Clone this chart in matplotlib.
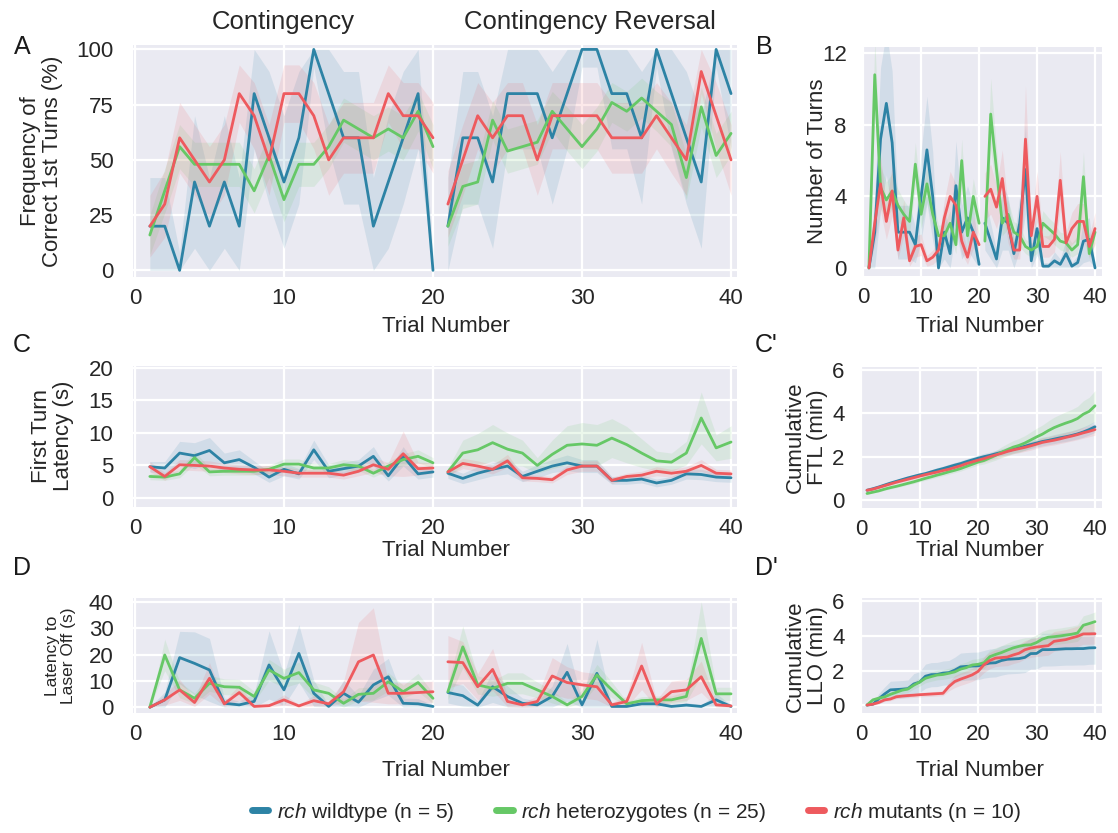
import numpy as np
import matplotlib
matplotlib.use("Agg")
import matplotlib.pyplot as plt
import seaborn as sns
from matplotlib.lines import Line2D

sns.set_theme(style="darkgrid")
plt.rcParams["font.family"] = ["Liberation Sans", "DejaVu Sans"]
plt.rcParams["mathtext.fontset"] = "custom"
plt.rcParams["mathtext.rm"] = "Liberation Sans"
plt.rcParams["mathtext.it"] = "Liberation Sans:italic"

trials = np.arange(1, 41)
groups = ["wt", "het", "mut"]
colors = {"wt": "#2d83a5", "het": "#66c866", "mut": "#ee5a5e"}
labels = [r"$\it{rch}$ wildtype (n = 5)",
          r"$\it{rch}$ heterozygotes (n = 25)",
          r"$\it{rch}$ mutants (n = 10)"]

# --- A: frequency of correct 1st turns (%)
a_wt = [20, 20, 0, 40, 20, 40, 20, 80, 60, 40, 60, 100, 80, 60, 60, 20, 40, 60, 80, 0,
        20, 60, 60, 40, 80, 80, 80, 60, 80, 100, 100, 80, 80, 60, 100, 80, 60, 40, 100, 80]
a_het = [16, 36, 56, 48, 48, 48, 48, 36, 52, 32, 48, 48, 56, 68, 64, 60, 64, 60, 72, 56,
         20, 38, 40, 68, 54, 56, 58, 72, 64, 56, 64, 76, 72, 78, 72, 66, 42, 74, 52, 62]
a_mut = [20, 30, 60, 50, 40, 50, 80, 70, 50, 80, 80, 70, 50, 60, 60, 60, 80, 70, 70, 60,
         30, 50, 70, 60, 70, 70, 50, 70, 70, 70, 70, 60, 60, 60, 70, 60, 50, 90, 70, 50]
a_wt_ci = [22, 22, 8, 30, 22, 30, 22, 25, 30, 30, 30, 8, 25, 30, 30, 22, 30, 30, 25, 8,
           22, 30, 30, 30, 25, 25, 25, 30, 25, 8, 8, 25, 25, 30, 8, 25, 30, 30, 8, 25]
a_het_ci = [9, 10, 10, 10, 10, 10, 10, 10, 10, 10, 10, 10, 10, 10, 10, 10, 10, 10, 9, 10,
            9, 10, 10, 9, 10, 10, 10, 9, 10, 10, 10, 9, 9, 9, 9, 10, 10, 9, 10, 10]
a_mut_ci = [14, 15, 16, 16, 16, 16, 13, 15, 16, 13, 13, 15, 16, 16, 16, 16, 13, 15, 15, 16,
            15, 16, 15, 16, 15, 15, 16, 15, 15, 15, 15, 16, 16, 16, 15, 16, 16, 10, 15, 16]

# --- B: number of turns
b_wt = [0, 2.0, 7.2, 9.2, 7.0, 2.0, 2.0, 2.0, 1.3, 4.0, 6.6, 4.0, 0, 2.0, 0.8, 4.6, 2.0, 2.8, 2.0, 0.2,
        2.5, 1.5, 0.5, 2.8, 2.5, 0.8, 2.5, 5.5, 0.4, 2.2, 0.1, 0.1, 0.4, 0.2, 0.8, 0.1, 0.3, 1.5, 1.6, 0]
b_het = [0, 10.8, 4.5, 3.8, 4.3, 3.5, 3.0, 2.6, 5.8, 3.0, 4.7, 3.0, 1.8, 1.8, 2.5, 1.3, 6.0, 1.8, 4.0, 2.5,
         1.5, 8.6, 5.5, 2.5, 3.0, 2.0, 1.8, 1.2, 1.0, 1.2, 2.5, 2.2, 1.9, 1.5, 1.4, 1.0, 1.3, 5.1, 0.8, 2.0]
b_mut = [0, 2.5, 4.7, 2.6, 4.3, 1.0, 2.8, 0.4, 1.2, 1.3, 0.4, 0.6, 1.0, 2.8, 4.0, 3.5, 1.5, 0.6, 2.0, 1.3,
         4.0, 4.4, 3.4, 5.0, 2.4, 1.0, 1.0, 7.2, 1.8, 4.0, 1.2, 1.2, 1.6, 4.9, 1.4, 2.2, 2.6, 2.6, 1.2, 2.2]
b_wt_ci = [0, 2, 4, 4, 4, 1.5, 1.5, 1.5, 1, 2.5, 3, 2.5, 0.2, 1.5, 0.8, 2.5, 1.5, 1.8, 1.5, 0.3,
           1.5, 1, 0.5, 1.8, 1.5, 0.8, 1.5, 2.5, 0.5, 1.5, 0.2, 0.2, 0.5, 0.3, 0.8, 0.2, 0.4, 1.2, 1.2, 0.2]
b_het_ci = [0.2, 2.0, 1.2, 1.0, 1.0, 0.9, 0.8, 0.7, 1.2, 0.8, 1.0, 0.8, 0.6, 0.6, 0.7, 0.5, 1.2, 0.6, 1.0, 0.7,
            0.5, 2.0, 1.2, 0.7, 0.8, 0.6, 0.6, 0.4, 0.4, 0.4, 0.7, 0.6, 0.6, 0.5, 0.5, 0.4, 0.5, 1.4, 0.3, 0.6]
b_mut_ci = [0.2, 1.2, 1.5, 1.0, 1.4, 0.5, 1.0, 0.3, 0.6, 0.6, 0.3, 0.4, 0.5, 1.0, 1.4, 1.2, 0.7, 0.4, 0.9, 0.6,
            1.3, 1.4, 1.2, 1.6, 1.0, 0.5, 0.5, 3.0, 0.8, 1.4, 0.6, 0.6, 0.7, 1.6, 0.6, 0.9, 1.0, 1.0, 0.6, 0.9]

# --- C: first turn latency (s)
c_wt = [4.8, 4.6, 6.9, 6.5, 7.3, 5.4, 5.9, 4.7, 3.2, 4.4, 3.7, 7.4, 4.1, 4.5, 4.9, 6.4, 3.4, 6.4, 3.7, 4.0,
        3.8, 3.0, 3.8, 4.4, 4.9, 3.3, 4.1, 4.9, 5.4, 4.9, 4.9, 2.7, 2.7, 2.9, 2.3, 2.7, 3.7, 3.6, 3.2, 3.1]
c_het = [3.3, 3.2, 3.7, 6.2, 4.0, 4.1, 4.1, 4.1, 4.4, 5.2, 5.2, 4.6, 4.6, 5.1, 4.9, 3.8, 4.9, 5.9, 6.4, 5.4,
         4.0, 6.9, 7.4, 8.5, 7.5, 6.9, 5.0, 6.7, 8.1, 8.3, 8.1, 9.2, 8.2, 6.9, 5.7, 5.5, 6.9, 12.3, 7.7, 8.6]
c_mut = [4.8, 3.3, 5.1, 5.0, 4.9, 4.6, 4.4, 4.3, 4.3, 4.1, 3.8, 3.8, 3.8, 3.5, 4.1, 5.1, 4.4, 6.8, 4.5, 4.6,
         4.0, 5.3, 4.9, 4.4, 5.7, 3.1, 3.0, 2.8, 4.3, 4.9, 4.9, 2.7, 3.3, 3.5, 4.1, 3.8, 4.1, 5.0, 3.8, 3.7]
c_wt_ci = [0.8, 1.0, 1.8, 2.0, 2.0, 1.5, 1.5, 1.0, 0.8, 1.0, 0.8, 1.5, 1.0, 1.0, 1.0, 1.5, 0.8, 1.5, 0.8, 0.8,
           0.8, 0.8, 1.0, 1.0, 1.2, 0.8, 1.0, 1.0, 1.2, 1.0, 1.0, 0.6, 0.6, 0.6, 0.6, 0.6, 0.8, 0.8, 0.7, 0.7]
c_het_ci = [0.5, 0.5, 0.6, 1.0, 0.6, 0.6, 0.6, 0.6, 0.6, 0.8, 0.8, 0.7, 0.7, 0.8, 0.7, 0.6, 0.7, 0.9, 1.0, 0.8,
            0.6, 2.0, 2.5, 2.8, 2.5, 2.0, 1.2, 2.2, 3.0, 3.3, 3.2, 3.0, 2.8, 2.2, 1.5, 1.4, 1.8, 4.0, 2.0, 2.5]
c_mut_ci = [0.8, 0.6, 0.8, 0.8, 0.8, 0.7, 0.7, 0.7, 0.7, 0.7, 0.6, 0.6, 0.6, 0.6, 0.7, 1.2, 1.0, 3.5, 1.0, 0.8,
            0.6, 0.8, 0.8, 0.7, 1.0, 0.5, 0.5, 0.5, 0.7, 0.8, 0.8, 0.5, 0.5, 0.6, 0.7, 0.6, 0.7, 0.9, 0.6, 0.6]

# --- C': cumulative first turn latency (min)
cc_wt = [0.45, 0.52, 0.60, 0.69, 0.78, 0.86, 0.94, 1.02, 1.09, 1.16, 1.22, 1.30, 1.38, 1.45, 1.53, 1.61, 1.68, 1.77, 1.85, 1.93,
         2.00, 2.06, 2.13, 2.20, 2.27, 2.34, 2.41, 2.48, 2.56, 2.63, 2.70, 2.75, 2.81, 2.87, 2.92, 2.98, 3.05, 3.14, 3.25, 3.38]
cc_het = [0.30, 0.36, 0.42, 0.50, 0.57, 0.63, 0.70, 0.77, 0.84, 0.92, 1.00, 1.07, 1.15, 1.22, 1.30, 1.37, 1.45, 1.55, 1.65, 1.75,
          1.82, 1.94, 2.06, 2.20, 2.32, 2.44, 2.52, 2.63, 2.77, 2.91, 3.04, 3.20, 3.34, 3.45, 3.55, 3.64, 3.76, 3.96, 4.09, 4.35]
cc_mut = [0.45, 0.50, 0.58, 0.66, 0.74, 0.82, 0.89, 0.96, 1.03, 1.10, 1.17, 1.23, 1.29, 1.36, 1.42, 1.50, 1.58, 1.68, 1.76, 1.84,
          1.91, 2.00, 2.08, 2.15, 2.24, 2.31, 2.37, 2.43, 2.50, 2.58, 2.66, 2.71, 2.76, 2.82, 2.89, 2.95, 3.02, 3.10, 3.17, 3.25]
cc_wt_ci = [0.05, 0.05, 0.06, 0.06, 0.07, 0.07, 0.08, 0.08, 0.09, 0.09, 0.10, 0.10, 0.11, 0.11, 0.12, 0.12, 0.13, 0.13, 0.14, 0.14,
            0.15, 0.15, 0.16, 0.16, 0.17, 0.17, 0.18, 0.18, 0.19, 0.19, 0.20, 0.20, 0.21, 0.21, 0.22, 0.22, 0.23, 0.24, 0.25, 0.26]
cc_het_ci = [0.04, 0.04, 0.05, 0.05, 0.06, 0.06, 0.07, 0.07, 0.08, 0.08, 0.09, 0.09, 0.10, 0.10, 0.11, 0.11, 0.12, 0.12, 0.13, 0.14,
             0.16, 0.19, 0.22, 0.25, 0.28, 0.30, 0.32, 0.34, 0.37, 0.40, 0.42, 0.45, 0.48, 0.50, 0.52, 0.54, 0.56, 0.62, 0.65, 0.70]
cc_mut_ci = [0.05, 0.05, 0.06, 0.06, 0.07, 0.07, 0.08, 0.08, 0.09, 0.09, 0.10, 0.10, 0.11, 0.11, 0.12, 0.12, 0.13, 0.14, 0.15, 0.15,
             0.16, 0.16, 0.17, 0.17, 0.18, 0.18, 0.19, 0.19, 0.20, 0.20, 0.21, 0.21, 0.22, 0.22, 0.23, 0.23, 0.24, 0.25, 0.25, 0.26]

# --- D: latency to laser off (s)
d_wt = [0, 2.8, 18.9, 16.7, 14.2, 1.5, 0.9, 2.2, 16.1, 6.6, 20.5, 5.3, 0.3, 5.3, 1.9, 8.5, 11.6, 1.5, 1.3, 0.3,
        5.6, 4.4, 0.8, 7.8, 4.1, 1.5, 0.9, 4.1, 13.3, 0.9, 12.9, 0.3, 0.3, 1.3, 1.3, 0.3, 0.8, 0.3, 2.8, 0.3]
d_het = [0, 19.9, 6.6, 3.4, 9.1, 7.8, 7.6, 4.1, 14.2, 11.0, 13.2, 6.6, 5.3, 1.5, 4.9, 5.3, 9.7, 5.9, 9.4, 3.4,
         5.9, 23.0, 8.5, 7.2, 9.1, 9.1, 6.6, 4.1, 0.9, 4.1, 12.3, 6.6, 1.3, 2.5, 2.8, 2.8, 4.1, 26.2, 5.1, 5.1]
d_mut = [0, 2.8, 6.6, 1.8, 11.0, 1.3, 5.6, 0.3, 0.6, 2.8, 0.5, 2.5, 1.3, 5.9, 17.3, 19.9, 5.3, 5.3, 5.6, 5.9,
         17.3, 17.0, 7.8, 14.4, 2.2, 0.9, 2.2, 11.9, 9.4, 8.5, 7.8, 0.9, 2.2, 15.7, 1.3, 5.9, 6.6, 11.6, 0.9, 0.5]
d_wt_ci = [0.3, 3, 10, 12, 12, 2, 1.5, 3, 13, 6, 11, 5, 0.5, 5, 2.5, 6, 7, 2, 2, 0.5,
           4, 4, 1.5, 6, 4, 2, 1.5, 4, 11, 1.5, 13, 0.5, 0.5, 2, 2, 0.5, 1, 0.5, 2.5, 0.5]
d_het_ci = [0.3, 6, 3, 2, 3, 3, 3, 2, 4, 3.5, 4, 3, 2.5, 1.5, 2.5, 2.5, 3.5, 2.5, 3.5, 2,
            3, 8, 3.5, 3, 4, 4, 3, 2.5, 1, 2.5, 4, 3, 1, 1.5, 1.5, 1.5, 2, 14, 2.5, 2.5]
d_mut_ci = [0.3, 2, 4, 1.5, 6, 1, 3, 0.5, 0.6, 2, 0.6, 2, 1, 4, 15, 18, 4, 4, 4, 4,
            10, 8, 5, 8, 2, 1, 2, 7, 6, 5, 5, 1, 2, 9, 1.5, 4, 4, 6, 1, 0.8]

# --- D': cumulative latency to laser off (min)
dd_wt = [0.00, 0.05, 0.36, 0.64, 0.88, 0.90, 0.92, 0.95, 1.22, 1.33, 1.67, 1.76, 1.77, 1.85, 1.88, 2.02, 2.21, 2.24, 2.26, 2.27,
         2.36, 2.43, 2.45, 2.58, 2.65, 2.67, 2.69, 2.76, 2.98, 2.99, 3.21, 3.21, 3.22, 3.24, 3.26, 3.26, 3.27, 3.27, 3.31, 3.32]
dd_het = [0.00, 0.30, 0.40, 0.47, 0.62, 0.74, 0.86, 0.93, 1.15, 1.33, 1.55, 1.65, 1.74, 1.77, 1.84, 1.92, 2.08, 2.17, 2.32, 2.36,
          2.45, 2.80, 2.93, 3.04, 3.18, 3.31, 3.40, 3.47, 3.49, 3.62, 3.82, 3.93, 3.96, 4.00, 4.05, 4.10, 4.17, 4.62, 4.72, 4.83]
dd_mut = [0.00, 0.05, 0.15, 0.30, 0.35, 0.48, 0.52, 0.55, 0.57, 0.60, 0.62, 0.64, 0.66, 0.68, 1.07, 1.36, 1.50, 1.62, 1.75, 1.95,
          2.33, 2.58, 2.72, 2.75, 2.78, 2.90, 3.00, 3.20, 3.30, 3.36, 3.40, 3.44, 3.69, 3.74, 3.79, 3.89, 3.98, 4.12, 4.12, 4.13]
dd_wt_ci = [0.00, 0.05, 0.30, 0.40, 0.50, 0.50, 0.50, 0.50, 0.60, 0.60, 0.70, 0.70, 0.70, 0.70, 0.70, 0.75, 0.80, 0.80, 0.80, 0.80,
            0.80, 0.82, 0.82, 0.85, 0.85, 0.85, 0.85, 0.88, 0.90, 0.90, 0.95, 0.95, 0.95, 0.95, 0.95, 0.95, 0.95, 0.95, 0.95, 0.95]
dd_het_ci = [0.00, 0.10, 0.12, 0.13, 0.15, 0.17, 0.19, 0.20, 0.22, 0.24, 0.26, 0.27, 0.28, 0.28, 0.29, 0.30, 0.31, 0.32, 0.33, 0.33,
             0.34, 0.38, 0.39, 0.40, 0.41, 0.42, 0.42, 0.43, 0.43, 0.44, 0.45, 0.46, 0.46, 0.46, 0.47, 0.47, 0.48, 0.55, 0.55, 0.56]
dd_mut_ci = [0.00, 0.03, 0.06, 0.10, 0.10, 0.12, 0.12, 0.13, 0.13, 0.13, 0.13, 0.14, 0.14, 0.14, 0.25, 0.35, 0.36, 0.37, 0.38, 0.40,
             0.45, 0.48, 0.49, 0.49, 0.50, 0.50, 0.51, 0.53, 0.54, 0.55, 0.55, 0.55, 0.57, 0.57, 0.58, 0.58, 0.59, 0.60, 0.60, 0.60]

W, H = 1118, 833
FS = 16
TXT = "#262626"
fig = plt.figure(figsize=(W / 100, H / 100), dpi=100)


def add_ax(l, t, r, b):
    return fig.add_axes([l / W, 1 - b / H, (r - l) / W, (b - t) / H])


def draw(ax, series, errs, split=True, lo_clip=None, hi_clip=None):
    parts = [slice(0, 20), slice(20, 40)] if split else [slice(0, 40)]
    for g, y, e in zip(groups, series, errs):
        y = np.asarray(y, float)
        e = np.asarray(e, float)
        lo, hi = y - e, y + e
        if lo_clip is not None:
            lo = np.clip(lo, lo_clip, None)
        if hi_clip is not None:
            hi = np.clip(hi, None, hi_clip)
        for sl in parts:
            ax.fill_between(trials[sl], lo[sl], hi[sl], color=colors[g], alpha=0.13, lw=0)
            ax.plot(trials[sl], y[sl], color=colors[g], lw=2)


def style(ax, ylim, yticks, xlim, ypad=11):
    ax.set_facecolor("#eaeaf2")
    ax.grid(True, color="white", lw=1.6)
    for s in ax.spines.values():
        s.set_visible(False)
    ax.set_ylim(*ylim)
    ax.set_yticks(yticks)
    ax.set_xlim(*xlim)
    ax.set_xticks([0, 10, 20, 30, 40])
    ax.tick_params(labelsize=FS, length=0, colors=TXT)
    ax.tick_params(axis="y", pad=ypad)
    ax.tick_params(axis="x", pad=8)


def ylab(ax, text, x_px, y_px, size=FS):
    ax.set_ylabel(text, fontsize=size, color=TXT, linespacing=1.05)
    ax.yaxis.set_label_coords(x_px / W, 1 - y_px / H, transform=fig.transFigure)


def xlab_at(ax, x_px, y_px):
    ax.set_xlabel("Trial Number", fontsize=FS, color=TXT)
    ax.xaxis.set_label_coords(x_px / W, 1 - y_px / H, transform=fig.transFigure)
    ax.xaxis.label.set_va("center")


left_x = (-0.13, 40.4)
right_x = (-0.2, 41.2)

# A
axA = add_ax(133, 45, 737, 277)
draw(axA, [a_wt, a_het, a_mut], [a_wt_ci, a_het_ci, a_mut_ci], lo_clip=0, hi_clip=100)
style(axA, (-3, 102), [0, 25, 50, 75, 100], left_x, ypad=14)
ylab(axA, "Frequency of\nCorrect 1st Turns (%)", 63, 161)
xlab_at(axA, 446, 326)
fig.text(283 / W, 1 - 22 / H, "Contingency", ha="center", va="center", fontsize=18.5, color=TXT)
fig.text(590 / W, 1 - 22 / H, "Contingency Reversal", ha="center", va="center", fontsize=18.5, color=TXT)

# B
axB = add_ax(862, 47, 1102, 276)
draw(axB, [b_wt, b_het, b_mut], [b_wt_ci, b_het_ci, b_mut_ci], lo_clip=0)
style(axB, (-0.45, 12.35), [0, 4, 8, 12], right_x)
ylab(axB, "Number of Turns", 828, 161)
xlab_at(axB, 980, 326)

# C
axC = add_ax(133, 366, 737, 507)
draw(axC, [c_wt, c_het, c_mut], [c_wt_ci, c_het_ci, c_mut_ci], lo_clip=0)
style(axC, (-1.4, 20.3), [0, 5, 10, 15, 20], left_x, ypad=14)
ylab(axC, "First Turn\nLatency (s)", 74, 436)
xlab_at(axC, 446, 550)

# C'
axC2 = add_ax(860, 367, 1102, 508)
draw(axC2, [cc_wt, cc_het, cc_mut], [cc_wt_ci, cc_het_ci, cc_mut_ci], split=False)
style(axC2, (-0.37, 6.14), [0, 2, 4, 6], right_x)
ylab(axC2, "Cumulative\nFTL (min)", 828, 437)
xlab_at(axC2, 980, 550)

# D
axD = add_ax(133, 598, 737, 713)
draw(axD, [d_wt, d_het, d_mut], [d_wt_ci, d_het_ci, d_mut_ci], lo_clip=0)
style(axD, (-2.2, 41.6), [0, 10, 20, 30, 40], left_x, ypad=14)
ylab(axD, "Latency to\nLaser Off (s)", 76, 656, size=12.5)
xlab_at(axD, 446, 771)

# D'
axD2 = add_ax(860, 598, 1102, 713)
draw(axD2, [dd_wt, dd_het, dd_mut], [dd_wt_ci, dd_het_ci, dd_mut_ci], split=False)
style(axD2, (-0.46, 6.2), [0, 2, 4, 6], right_x)
ylab(axD2, "Cumulative\nLLO (min)", 828, 656)
xlab_at(axD2, 980, 771)

# panel letters
for txt, x, y in [("A", 22, 47), ("B", 764, 47), ("C", 22, 345), ("C'", 766, 345),
                  ("D", 22, 568), ("D'", 766, 568)]:
    fig.text(x / W, 1 - y / H, txt, ha="center", va="center", fontsize=18, color="#1a1a1a")

handles = [Line2D([], [], color=colors[g], lw=5) for g in groups]
fig.legend(handles, labels, loc="center", bbox_to_anchor=(0.569, 1 - 812 / H), ncol=3,
           frameon=False, fontsize=15, handlelength=0.8, columnspacing=2.0, handletextpad=0.4)

fig.savefig("out.png", dpi=100)
